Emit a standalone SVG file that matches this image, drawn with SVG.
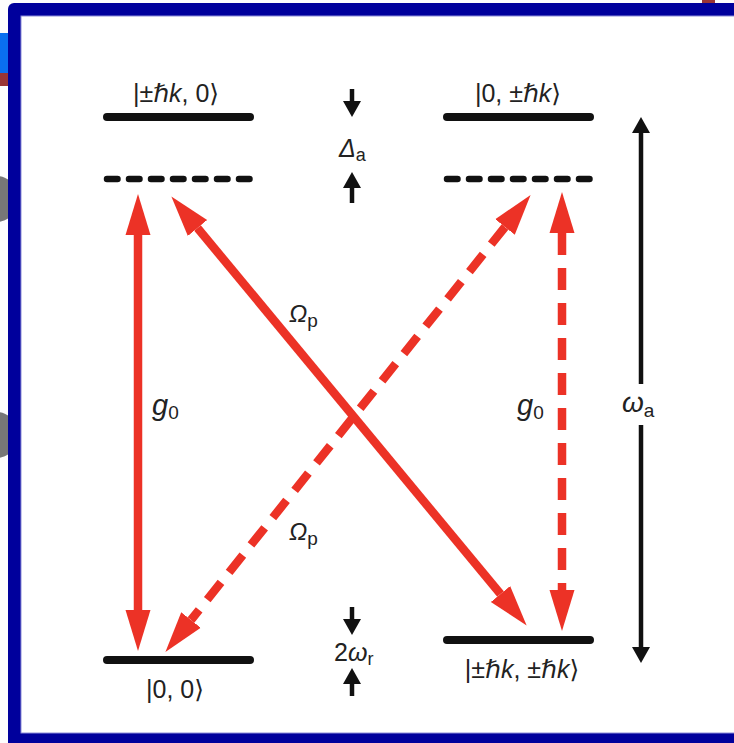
<svg xmlns="http://www.w3.org/2000/svg" width="734" height="743" viewBox="0 0 734 743">
<defs>
<style>
.lvl{stroke:#111;stroke-width:8;stroke-linecap:round;fill:none}
.lvld{stroke:#111;stroke-width:6.5;stroke-linecap:round;stroke-dasharray:10.5 11.5;fill:none}
.red{stroke:#ec3226;stroke-width:8.5;fill:none}
.redd{stroke:#ec3226;stroke-width:8.5;fill:none;stroke-dasharray:22 13}
.blk{stroke:#111;stroke-width:4.5;fill:none}
text{font-family:"Liberation Sans",Arial,"DejaVu Sans",sans-serif;fill:#222}
.it{font-style:italic}
</style>
<marker id="rh" markerUnits="userSpaceOnUse" markerWidth="44" markerHeight="28" viewBox="0 -14 44 28" refX="0" refY="0" orient="auto-start-reverse">
<path d="M0,-12.5 L41,0 L0,12.5 z" fill="#ec3226"/>
</marker>
<marker id="bh" markerUnits="userSpaceOnUse" markerWidth="20" markerHeight="22" viewBox="0 -11 20 22" refX="0" refY="0" orient="auto-start-reverse">
<path d="M0,-9 L16,0 L0,9 z" fill="#111"/>
</marker>
</defs>

<g id="background">
<rect x="0" y="0" width="734" height="743" fill="#fdfdfd"/>
<rect x="0" y="33" width="10" height="40" fill="#0a6ff0"/>
<rect x="0" y="73" width="10" height="13" fill="#9a3535"/>
<circle cx="-4" cy="199" r="23" fill="#777"/>
<circle cx="-4" cy="435" r="23" fill="#777"/>
<rect x="702" y="0" width="13" height="6" fill="#9a3535"/>
<rect x="8" y="3" width="740" height="745" rx="6" fill="#00009c"/>
<rect x="21" y="16" width="720" height="717" fill="#ffffff" stroke="#8c8cd8" stroke-width="1"/>
</g>

<g id="connectors">
<line class="redd" x1="505" y1="227" x2="191" y2="620" marker-start="url(#rh)" marker-end="url(#rh)"/>
<line class="red" x1="197.5" y1="228" x2="500.5" y2="594" marker-start="url(#rh)" marker-end="url(#rh)"/>
<line class="red" x1="138" y1="235" x2="138" y2="610" marker-start="url(#rh)" marker-end="url(#rh)"/>
<line class="redd" x1="562" y1="233" x2="562" y2="590" marker-start="url(#rh)" marker-end="url(#rh)"/>
<line class="blk" x1="352" y1="89" x2="352" y2="101" marker-end="url(#bh)"/>
<line class="blk" x1="352" y1="203" x2="352" y2="188" marker-end="url(#bh)"/>
<line class="blk" x1="352" y1="607" x2="352" y2="619" marker-end="url(#bh)"/>
<line class="blk" x1="352" y1="696" x2="352" y2="684" marker-end="url(#bh)"/>
<line class="blk" x1="641" y1="384" x2="641" y2="133" marker-end="url(#bh)"/>
<line class="blk" x1="641" y1="425" x2="641" y2="647" marker-end="url(#bh)"/>
</g>

<g id="level-pk0">
<line class="lvl" x1="107" y1="117" x2="250" y2="117"/>
<text x="176" y="102" font-size="25" text-anchor="middle">|±<tspan class="it">ℏk</tspan>, 0⟩</text>
</g>
<g id="level-0pk">
<line class="lvl" x1="447" y1="117" x2="590" y2="117"/>
<text x="518" y="102" font-size="25" text-anchor="middle">|0, ±<tspan class="it">ℏk</tspan>⟩</text>
</g>
<g id="virtual-left">
<line class="lvld" x1="107" y1="179" x2="250" y2="179"/>
</g>
<g id="virtual-right">
<line class="lvld" x1="447" y1="179" x2="590" y2="179"/>
</g>
<g id="level-00">
<line class="lvl" x1="107" y1="660" x2="250" y2="660"/>
<text x="175" y="698" font-size="25" text-anchor="middle">|0, 0⟩</text>
</g>
<g id="level-pkpk">
<line class="lvl" x1="447" y1="640" x2="590" y2="640"/>
<text x="522" y="678" font-size="25" text-anchor="middle">|±<tspan class="it">ℏk</tspan>, ±<tspan class="it">ℏk</tspan>⟩</text>
</g>

<g id="labels">
<text x="339" y="157" font-size="25"><tspan class="it">Δ</tspan><tspan font-size="18" dy="4">a</tspan></text>
<text x="334" y="661" font-size="25">2<tspan class="it">ω</tspan><tspan font-size="18" dy="4">r</tspan></text>
<text x="622" y="412" font-size="28"><tspan class="it">ω</tspan><tspan font-size="19" dy="5">a</tspan></text>
<text x="289" y="322" font-size="24"><tspan class="it">Ω</tspan><tspan font-size="19" dy="5">p</tspan></text>
<text x="289" y="540" font-size="24"><tspan class="it">Ω</tspan><tspan font-size="19" dy="5">p</tspan></text>
<text x="152" y="415" font-size="29"><tspan class="it">g</tspan><tspan font-size="19" dy="4">0</tspan></text>
<text x="517" y="415" font-size="29"><tspan class="it">g</tspan><tspan font-size="19" dy="4">0</tspan></text>
</g>
</svg>
